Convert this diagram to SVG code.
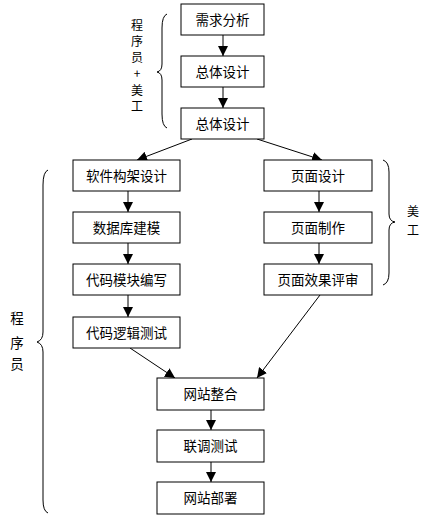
<svg xmlns="http://www.w3.org/2000/svg" width="426" height="526" viewBox="0 0 426 526">
<style>
.box rect{fill:#fff;stroke:#000;stroke-width:1}
.box text{font-family:"Noto Sans CJK SC",sans-serif;font-size:13.5px;text-anchor:middle;fill:#000}
.lbl{font-family:"Noto Sans CJK SC",sans-serif;font-size:13.5px;text-anchor:middle;fill:#000}
.lbl-s{font-family:"Noto Sans CJK SC",sans-serif;font-size:12px;text-anchor:middle;fill:#000}
.brace{fill:none;stroke:#000;stroke-width:1}
#connectors line{stroke:#000;stroke-width:1;marker-end:url(#arr)}
</style>
<defs>
<marker id="arr" viewBox="0 0 10 10" refX="10" refY="5" markerWidth="10" markerHeight="10" markerUnits="userSpaceOnUse" orient="auto">
<path d="M0,0 L10,5 L0,10 Z" fill="#000"/>
</marker>
</defs>
<rect width="426" height="526" fill="#fff"/>
<g id="connectors">
<line x1="223" y1="35" x2="223" y2="56"/>
<line x1="223" y1="87" x2="223" y2="108"/>
<line x1="192" y1="139" x2="137" y2="160"/>
<line x1="257" y1="139" x2="322" y2="160"/>
<line x1="128" y1="191" x2="128" y2="212"/>
<line x1="128" y1="243" x2="128" y2="264"/>
<line x1="128" y1="295" x2="128" y2="317"/>
<line x1="319" y1="191" x2="319" y2="212"/>
<line x1="319" y1="243" x2="319" y2="264"/>
<line x1="130" y1="348" x2="175" y2="378"/>
<line x1="320" y1="295" x2="257" y2="378"/>
<line x1="211" y1="410" x2="211" y2="430"/>
<line x1="211" y1="462" x2="211" y2="482"/>
</g>
<g id="n1" class="box"><rect x="181" y="4" width="83" height="31"/><text x="222.5" y="24.5">需求分析</text></g>
<g id="n2" class="box"><rect x="181" y="56" width="83" height="31"/><text x="222.5" y="76.5">总体设计</text></g>
<g id="n3" class="box"><rect x="181" y="108" width="83" height="31"/><text x="222.5" y="128.5">总体设计</text></g>
<g id="n4" class="box"><rect x="73" y="160" width="107" height="31"/><text x="126.5" y="180.5">软件构架设计</text></g>
<g id="n5" class="box"><rect x="73" y="212" width="107" height="31"/><text x="126.5" y="232.5">数据库建模</text></g>
<g id="n6" class="box"><rect x="73" y="264" width="107" height="31"/><text x="126.5" y="284.5">代码模块编写</text></g>
<g id="n7" class="box"><rect x="73" y="317" width="107" height="31"/><text x="126.5" y="337.5">代码逻辑测试</text></g>
<g id="n8" class="box"><rect x="264" y="160" width="108" height="31"/><text x="318" y="180.5">页面设计</text></g>
<g id="n9" class="box"><rect x="264" y="212" width="108" height="31"/><text x="318" y="232.5">页面制作</text></g>
<g id="n10" class="box"><rect x="264" y="264" width="108" height="31"/><text x="318" y="284.5">页面效果评审</text></g>
<g id="n11" class="box"><rect x="157" y="378" width="107" height="32"/><text x="210.5" y="399">网站整合</text></g>
<g id="n12" class="box"><rect x="157" y="430" width="107" height="32"/><text x="210.5" y="451">联调测试</text></g>
<g id="n13" class="box"><rect x="157" y="482" width="107" height="32"/><text x="210.5" y="503">网站部署</text></g>
<g id="brace-top">
<path class="brace" d="M167,14 Q162,16 162,28 L162,64 Q162,71 157,72 Q162,73 162,80 L162,114 Q162,126 167,128"/>
<text class="lbl-s" x="137" y="30">程</text>
<text class="lbl-s" x="137" y="46">序</text>
<text class="lbl-s" x="137" y="62">员</text>
<text class="lbl-s" x="137" y="78">+</text>
<text class="lbl-s" x="137" y="95">美</text>
<text class="lbl-s" x="137" y="111">工</text>
</g>
<g id="brace-right">
<path class="brace" d="M383,160 Q389,162 389,172 L389,214 Q389,221 395,222 Q389,223 389,230 L389,273 Q389,283 383,285"/>
<text class="lbl-s" x="413" y="216">美</text>
<text class="lbl-s" x="413" y="235">工</text>
</g>
<g id="brace-left">
<path class="brace" d="M48,170 Q43,172 43,185 L43,332 Q43,340 37,342 Q43,344 43,352 L43,500 Q43,511 48,513"/>
<text class="lbl" x="17" y="323">程</text>
<text class="lbl" x="17" y="348">序</text>
<text class="lbl" x="17" y="369">员</text>
</g>
</svg>
